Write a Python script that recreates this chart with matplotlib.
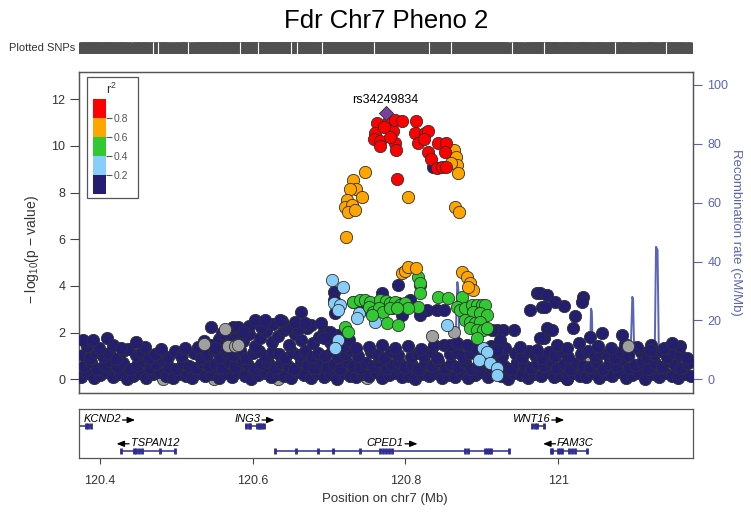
import matplotlib
matplotlib.use("Agg")
import matplotlib.pyplot as plt
from matplotlib.patches import Rectangle

plt.rcParams['font.family'] = ['Liberation Sans', 'DejaVu Sans']
plt.rcParams['mathtext.default'] = 'regular'

# ---------------- data ----------------
title = "Fdr Chr7 Pheno 2"
lead_name = "rs34249834"
lead_pos, lead_logp = 120.774, 11.43

# SNPs, (position Mb, -log10 p), grouped by r2 bin
navy_row_a = [(120.376,.10),(120.384,.26),(120.393,.05),(120.401,.19),(120.410,.31),(120.418,.08),(120.427,.22),(120.436,.03),
    (120.444,.16),(120.453,.29),(120.461,.07),(120.470,.21),(120.478,.33),(120.487,.12),(120.496,.04),(120.504,.24),
    (120.513,.16),(120.521,.07),(120.530,.29),(120.538,.13),(120.547,.21),(120.556,.05),(120.564,.26),(120.573,.09),
    (120.581,.31),(120.590,.14),(120.598,.02),(120.607,.19),(120.616,.27),(120.624,.08),(120.633,.23),(120.641,.12),
    (120.650,.04),(120.659,.30),(120.667,.17),(120.676,.06),(120.684,.25),(120.693,.10),(120.702,.21),(120.710,.03),
    (120.719,.28),(120.727,.15),(120.736,.08),(120.745,.24),(120.753,.12),(120.762,.32),(120.770,.05),(120.779,.19),
    (120.788,.27),(120.796,.09),(120.805,.16),(120.813,.02),(120.822,.23),(120.831,.13),(120.839,.29),(120.848,.07),
    (120.856,.20),(120.865,.11),(120.874,.26),(120.882,.04),(120.891,.18),(120.899,.31),(120.908,.09),(120.917,.22),
    (120.925,.14),(120.934,.03),(120.942,.27),(120.951,.17),(120.960,.06),(120.968,.24),(120.977,.12),(120.985,.30),
    (120.994,.08),(121.003,.19),(121.011,.02),(121.020,.25),(121.028,.15),(121.037,.10),(121.046,.28),(121.054,.05),
    (121.063,.21),(121.071,.13),(121.080,.33),(121.089,.07),(121.097,.18),(121.106,.26),(121.114,.03),(121.123,.22),
    (121.132,.11),(121.140,.29),(121.149,.16),(121.157,.06),(121.166,.24),(121.174,.12)]
navy_row_b = [(120.380,.55),(120.389,.72),(120.397,.46),(120.406,.63),(120.414,.80),(120.423,.51),(120.431,.68),(120.440,.44),
    (120.449,.60),(120.457,.77),(120.466,.49),(120.474,.66),(120.483,.81),(120.491,.53),(120.500,.45),(120.509,.70),
    (120.517,.58),(120.526,.47),(120.534,.75),(120.543,.56),(120.551,.67),(120.560,.48),(120.569,.73),(120.577,.52),
    (120.586,.79),(120.594,.61),(120.603,.43),(120.611,.64),(120.620,.76),(120.629,.50),(120.637,.69),(120.646,.57),
    (120.654,.46),(120.663,.78),(120.671,.62),(120.680,.49),(120.689,.71),(120.697,.54),(120.706,.66),(120.714,.44),
    (120.723,.74),(120.732,.59),(120.740,.50),(120.749,.70),(120.757,.56),(120.766,.80),(120.775,.47),(120.783,.63),
    (120.792,.73),(120.800,.51),(120.809,.61),(120.817,.43),(120.826,.68),(120.835,.57),(120.843,.77),(120.852,.49),
    (120.860,.65),(120.869,.54),(120.878,.72),(120.886,.45),(120.895,.62),(120.903,.79),(120.912,.51),(120.921,.67),
    (120.929,.58),(120.938,.44),(120.946,.74),(120.955,.60),(120.964,.48),(120.972,.69),(120.981,.55),(120.989,.78),
    (120.998,.50),(121.007,.64),(121.015,.42),(121.024,.71),(121.032,.59),(121.041,.53),(121.050,.76),(121.058,.46),
    (121.067,.66),(121.075,.56),(121.084,.81),(121.093,.50),(121.101,.63),(121.110,.73),(121.118,.44),(121.127,.68),
    (121.136,.54),(121.144,.77),(121.153,.60),(121.161,.48),(121.170,.70)]
navy_row_c = [(120.378,1.05),(120.387,.92),(120.395,1.18),(120.404,.98),(120.412,1.12),(120.421,.89),(120.430,1.22),
    (120.447,1.02),(120.455,1.15),(120.464,.90),(120.472,1.08),(120.489,.95),(120.498,1.20),(120.506,1.00),(120.524,1.14),
    (120.532,.91),(120.541,1.06),(120.549,1.24),(120.558,.97),(120.566,1.16),(120.575,1.03),(120.583,1.25),(120.592,.93),
    (120.600,1.11),(120.609,1.21),(120.618,.99),(120.626,1.17),(120.635,1.07),(120.643,.90),(120.652,1.19),(120.661,1.04),
    (120.669,1.23),(120.678,.96),(120.686,1.13),(120.695,1.01),(120.704,1.20),(120.712,.94),(120.721,1.10),(120.729,1.24),
    (120.738,.98),(120.755,1.15),(120.764,1.02),(120.772,.91),(120.781,1.18),(120.790,1.06),(120.807,.95),(120.816,1.12),
    (120.824,1.00),(120.833,1.21),(120.841,.93),(120.858,1.09),(120.867,1.19),(120.876,.97),(120.884,1.14),(120.901,1.04),
    (120.910,.92),(120.919,1.17),(120.927,1.00),(120.944,1.12),(120.953,.95),(120.962,1.22),(120.970,1.05),(120.979,.90),
    (120.988,1.16),(120.996,1.01),(121.005,1.20),(121.013,.94),(121.030,1.10),(121.039,1.23),(121.048,.99),(121.056,1.13),
    (121.065,1.06),(121.074,.92),(121.082,1.18),(121.091,1.03),(121.108,1.15),(121.116,.96),(121.125,1.08),(121.134,1.21),
    (121.142,.97),(121.151,1.12),(121.159,1.02),(121.168,.90)]
navy_row_d = [(120.383,1.42),(120.399,1.35),(120.418,1.48),(120.437,1.31),(120.459,1.38),(120.480,1.29),(120.512,1.33),
    (120.537,1.62),(120.545,1.45),(120.556,1.71),(120.563,1.38),(120.571,1.85),(120.579,1.52),(120.587,1.66),(120.595,1.92),
    (120.603,1.44),(120.610,1.78),(120.618,2.05),(120.626,1.58),(120.633,1.87),(120.641,2.12),(120.648,1.49),(120.656,1.95),
    (120.664,1.70),(120.671,2.18),(120.679,1.55),(120.687,1.83),(120.694,2.08),(120.702,1.60),(120.710,1.88),(120.718,1.42),
    (120.726,1.67),(120.735,1.35),(120.752,1.38),(120.769,1.45),(120.786,1.33),(120.803,1.41),(120.820,1.30),(120.837,1.47),
    (120.893,1.36),(120.912,1.44),(120.931,1.32),(120.950,1.40),(120.998,1.48),(121.012,1.35),(121.027,1.55),(121.052,1.42),
    (121.069,1.33),(121.087,1.50),(121.103,1.38),(121.121,1.45),(121.138,1.34),(121.160,1.41)]
navy_row_e = [(120.560,1.98),(120.578,2.00),(120.596,2.30),(120.611,2.22),(120.627,2.38),(120.645,2.25),(120.660,2.15),
    (120.676,2.33),(120.690,2.41)]
navy_high = [(120.378,1.69),(120.391,1.69),(120.409,1.76),(120.448,1.61),(120.428,1.33),(120.546,2.25),(120.575,2.25),
    (120.581,2.25),(120.529,1.40),(120.551,1.33),(120.664,2.90),(120.603,2.54),(120.616,2.54),(120.638,2.51),(120.656,2.47),
    (120.669,2.40),(120.588,2.04),(120.636,2.54),(120.706,3.75),(120.706,3.40),(120.708,2.83),(120.702,2.04),(120.693,1.76),
    (120.732,3.33),(120.743,2.97),(120.769,3.69),(120.791,4.04),(120.819,4.04),(120.791,3.26),(120.782,3.04),(120.777,3.18),
    (120.806,3.40),(120.796,2.76),(120.828,2.97),(120.819,2.76),(120.841,2.97),(120.850,2.97),(120.836,9.09),
    (120.850,1.47),(120.859,1.47),(120.867,1.54),(120.880,1.47),(120.920,2.11),(120.928,2.11),(120.942,2.11),(120.913,2.11),
    (120.924,1.68),(120.920,1.26),(120.963,2.97),(120.972,3.69),(120.979,3.11),(120.972,1.26),(120.981,1.76),(120.985,2.19),
    (120.976,3.69),(120.985,3.61),(120.983,3.11),(120.996,3.33),(121.007,3.14),(121.033,3.54),(121.031,3.33),(121.022,2.73),
    (120.992,2.11),(121.020,2.19),(121.083,1.90),(121.057,1.97),(121.042,1.83),(121.120,1.26),(121.149,1.54),(120.976,1.76)]
grey_low = [(120.483,0.00),(120.633,0.00),(120.750,0.04),(121.011,0.00),(120.550,0.00),(121.035,0.91),(120.509,1.11)]
grey_snps = [(120.564,2.16),(120.537,1.50),(120.568,1.44),(120.577,1.44),(120.835,1.87),(120.863,2.04),(121.091,1.43),
    (120.581,1.47)]
lightblue_snps = [(120.704,4.26),(120.718,3.94),(120.706,3.28),(120.715,3.18),(120.712,2.97),(120.739,2.83),(120.737,2.61),
    (120.760,2.47),(120.712,1.68),(120.708,1.33),(120.854,2.33),(120.902,1.33),(120.907,1.18),(120.896,0.83),(120.911,0.69),
    (120.920,0.47),(120.920,0.18)]
green_snps = [(120.817,4.40),(120.819,4.11),(120.819,3.69),(120.817,3.11),(120.731,3.33),(120.741,3.40),(120.747,3.40),
    (120.754,3.33),(120.767,3.40),(120.774,3.37),(120.780,3.26),(120.787,3.33),(120.793,3.18),(120.800,3.26),(120.804,3.04),
    (120.752,3.11),(120.758,2.90),(120.765,3.04),(120.771,2.90),(120.780,3.04),(120.789,3.04),(120.756,2.76),(120.776,2.40),
    (120.791,2.33),(120.721,2.25),(120.725,2.04),(120.843,3.54),(120.856,3.47),(120.874,3.54),(120.867,3.11),(120.872,2.97),
    (120.878,3.04),(120.887,3.18),(120.894,3.18),(120.900,3.18),(120.904,3.18),(120.889,2.90),(120.898,2.83),(120.907,2.76),
    (120.878,2.54),(120.885,2.47),(120.891,2.40),(120.898,2.47),(120.885,2.19),(120.894,2.11),(120.902,2.11),(120.907,2.19),
    (120.894,1.76)]
orange_snps = [(120.864,9.83),(120.866,9.52),(120.868,9.19),(120.869,8.83),(120.860,9.27),(120.865,7.39),(120.870,7.17),
    (120.804,7.83),(120.747,8.90),(120.731,8.54),(120.736,8.16),(120.728,8.14),(120.743,7.83),(120.724,7.69),(120.721,7.39),
    (120.730,7.47),(120.725,7.17),(120.734,7.26),(120.722,6.10),(120.795,4.54),(120.800,4.65),(120.804,4.80),(120.814,4.76),
    (120.874,4.61),(120.880,4.37),(120.885,4.11),(120.888,3.83),(120.882,3.96)]
red_snps = [(120.763,10.97),(120.760,10.57),(120.759,10.29),(120.767,10.23),(120.767,10.00),(120.777,11.04),(120.784,10.66),
    (120.786,11.11),(120.795,11.08),(120.786,10.14),(120.788,9.83),(120.814,11.08),(120.813,10.57),(120.817,10.12),
    (120.826,10.54),(120.830,10.66),(120.825,10.29),(120.830,9.76),(120.833,9.44),(120.843,10.12),(120.853,10.12),
    (120.852,9.76),(120.841,9.04),(120.848,9.09),(120.853,9.09),(120.789,8.57),(120.772,10.81),(120.780,10.39)]

# recombination rate (cM/Mb)
recomb_pos = [120.373,120.395,120.420,120.452,120.480,120.510,120.545,120.580,120.615,120.650,120.690,120.725,120.760,
    120.795,120.830,120.855,120.865,120.867,120.868,120.8695,120.871,120.880,120.905,120.935,120.965,121.000,121.030,
    121.041,121.043,121.044,121.046,121.060,121.080,121.094,121.097,121.098,121.100,121.115,121.126,121.128,121.130,
    121.132,121.150,121.176]
recomb_rate = [1.5,2.0,0.8,1.2,2.5,0.6,1.0,1.8,0.5,1.3,0.9,2.2,0.7,1.1,0.8,1.5,3.0,25,33,30,2.5,1.0,1.6,0.9,2.0,1.2,0.8,
    3.0,24,23,1.5,0.9,1.4,2.0,28,27,1.8,1.0,2.0,45,44,2.5,1.2,0.8]

# stretches without SNPs in the "Plotted SNPs" rug
rug_gaps = [120.4691,120.4767,120.5156,120.5834,120.6067,120.6506,120.6588,120.6914,120.7593,120.8315,120.8597,
    120.9401,120.9809,121.0745,121.1410]

# genes: name, start, end, strand, row, exons
gene_names = ["KCND2", "TSPAN12", "ING3", "CPED1", "WNT16", "FAM3C"]
gene_start = [119.913, 120.428, 120.590, 120.629, 120.966, 120.989]
gene_end = [120.390, 120.498, 120.615, 120.936, 120.982, 121.038]
gene_strand = ["+", "-", "+", "+", "+", "-"]
gene_row = [0, 1, 0, 1, 0, 1]
gene_exons = [
    [120.382, 120.385, 120.389],
    [120.428, 120.445, 120.448, 120.451, 120.455, 120.479, 120.498],
    [120.591, 120.595, 120.597, 120.606, 120.608, 120.610, 120.612, 120.615],
    [120.629, 120.657, 120.686, 120.705, 120.740, 120.767, 120.771, 120.774, 120.778, 120.782,
     120.878, 120.882, 120.904, 120.907, 120.910, 120.912, 120.936],
    [120.966, 120.970, 120.972, 120.982],
    [120.990, 120.992, 121.000, 121.003, 121.005, 121.014, 121.018, 121.022, 121.038],
]

r2_edges = [0.0, 0.2, 0.4, 0.6, 0.8]
r2_colors = ["#231E70", "#87CEFA", "#32C832", "#FFA500", "#FF0000"]

# ---------------- styling ----------------
W, H = 751, 515
XLIM = (120.3733, 121.176)
RECOMB = "#5A64B8"
GENE = "#2E2C8C"
FRAME = "#555555"


def box(x0, y0, x1, y1):
    return [x0 / W, 1 - y1 / H, (x1 - x0) / W, (y1 - y0) / H]


fig = plt.figure(figsize=(W / 100, H / 100), dpi=100)

fig.text(386 / W, 1 - 21 / H, title, ha='center', va='center', fontsize=18.5)

# main panel
ax = fig.add_axes(box(79.3, 71.7, 692.7, 393))
ax2 = ax.twinx()
ax.set_zorder(2)
ax2.set_zorder(1)
ax.patch.set_visible(False)

ax2.plot(recomb_pos, recomb_rate, color=RECOMB, lw=1.4)
ax2.set_ylim(-4.66, 104.5)
ax2.set_yticks(range(0, 101, 20))
ax2.tick_params(axis='y', colors=RECOMB, labelsize=9, length=6.5, pad=4)

navy = navy_row_a + navy_row_b + navy_row_c + navy_row_d + navy_row_e + navy_high
groups = [(grey_low, "#A0A0A0"), (navy, r2_colors[0]), (grey_snps, "#A0A0A0"), (lightblue_snps, r2_colors[1]),
          (green_snps, r2_colors[2]), (orange_snps, r2_colors[3]), (red_snps, r2_colors[4])]
for pts, col in groups:
    ax.scatter([p[0] for p in pts], [p[1] for p in pts], s=78, c=col,
               edgecolors='#303030', linewidths=0.6, zorder=3)
ax.scatter([lead_pos], [lead_logp], marker='D', s=52, c='#7B3F9E',
           edgecolors='#303030', linewidths=0.6, zorder=4)
ax.annotate(lead_name, (lead_pos, lead_logp), xytext=(0, 9), textcoords='offset points',
            ha='center', va='center', fontsize=9)

ax.set_xlim(*XLIM)
ax.set_ylim(-0.587, 13.18)
ax.set_yticks(range(0, 13, 2))
ax.set_xticks([])
ax.tick_params(axis='y', colors='#444444', labelcolor='#333333', labelsize=9, length=6.5, pad=3.5)
for a in (ax, ax2):
    for s in a.spines.values():
        s.set_color(FRAME)
        s.set_linewidth(0.9)

fig.text(31.7 / W, 1 - 250 / H, '\u2212 log$_{10}$(p \u2212 value)', rotation=90,
         ha='center', va='center', fontsize=10, color='#333333')
fig.text(736 / W, 1 - 232 / H, 'Recombination rate (cM/Mb)', rotation=270,
         ha='center', va='center', fontsize=9.5, color=RECOMB)

# r2 legend
fig.add_artist(Rectangle((86.7 / W, 1 - 198 / H), 51 / W, (198 - 76.7) / H,
                         transform=fig.transFigure, facecolor='white', edgecolor=FRAME,
                         lw=0.9, zorder=5))
cax = fig.add_axes(box(93.3, 99, 105.7, 194))
cax.set_zorder(6)
for lo, col in zip(r2_edges, r2_colors):
    cax.bar(0.5, 0.2, bottom=lo, width=1, color=col)
cax.set_xlim(0, 1)
cax.set_ylim(0, 1)
cax.set_xticks([])
cax.set_yticks(r2_edges[1:])
cax.yaxis.tick_right()
cax.tick_params(axis='y', colors='#555555', labelsize=7.5, length=4.3, pad=1.5)
for s in cax.spines.values():
    s.set_visible(False)
fig.text(111.7 / W, 1 - 89 / H, 'r$^2$', ha='center', va='center', fontsize=9,
         color='#333333', zorder=7)

# plotted SNPs rug
rax = fig.add_axes(box(79.3, 42, 692.7, 54))
all_pos = [p[0] for pts, _ in groups for p in pts] + [lead_pos]
rax.vlines(all_pos, 0, 1, color='#505050', lw=5)
rax.vlines(rug_gaps, 0, 1, color='white', lw=0.8)
rax.set_xlim(*XLIM)
rax.set_ylim(0, 1)
rax.axis('off')
fig.text(75 / W, 1 - 48 / H, 'Plotted SNPs', ha='right', va='center', fontsize=8, color='#333333')

# gene track
gax = fig.add_axes(box(79.3, 409, 692.7, 458))
gax.set_xlim(*XLIM)
gax.set_ylim(49, 0)
gax.set_yticks([])
line_y = [17, 42]
label_y = [10.5, 34.3]
labels = []
for name, st, en, strand, row, exons in zip(gene_names, gene_start, gene_end, gene_strand, gene_row, gene_exons):
    y = line_y[row]
    vis_st = max(st, XLIM[0])
    gax.plot([vis_st, en], [y, y], color=GENE, lw=1.1, solid_capstyle='butt')
    gax.vlines(exons, y - 2.6, y + 2.6, color=GENE, lw=2.0)
    if st < XLIM[0]:
        t = gax.annotate(name, (XLIM[0], label_y[row]), xytext=(3, 0), textcoords='offset points',
                         ha='left', va='center', fontsize=8, style='italic')
    else:
        shift = -5 if strand == '+' else 5
        t = gax.annotate(name, ((st + en) / 2, label_y[row]), xytext=(shift, 0), textcoords='offset points',
                         ha='center', va='center', fontsize=8, style='italic')
    labels.append((t, strand))

# strand arrows next to gene names
fig.canvas.draw()
for t, strand in labels:
    bb = t.get_window_extent()
    yc = (bb.y0 + bb.y1) / 2 - 0.5
    if strand == '+':
        tail, tip = (bb.x1 + 1.5, yc), (bb.x1 + 14, yc)
    else:
        tail, tip = (bb.x0 - 1.5, yc), (bb.x0 - 14, yc)
    gax.annotate('', xy=tip, xytext=tail, xycoords='figure pixels', textcoords='figure pixels',
                 arrowprops=dict(arrowstyle='-|>,head_length=0.45,head_width=0.18', color='black',
                                 lw=0.9, shrinkA=0, shrinkB=0))

gax.set_xticks([120.4, 120.6, 120.8, 121.0])
gax.set_xticklabels(['120.4', '120.6', '120.8', '121'])
gax.tick_params(axis='x', colors='#444444', labelcolor='#333333', labelsize=9, length=4.3, pad=8)
for s in gax.spines.values():
    s.set_color(FRAME)
    s.set_linewidth(0.9)
fig.text(385 / W, 1 - 499 / H, 'Position on chr7 (Mb)', ha='center', va='center',
         fontsize=9.5, color='#333333')

fig.savefig('out.png', dpi=100)
